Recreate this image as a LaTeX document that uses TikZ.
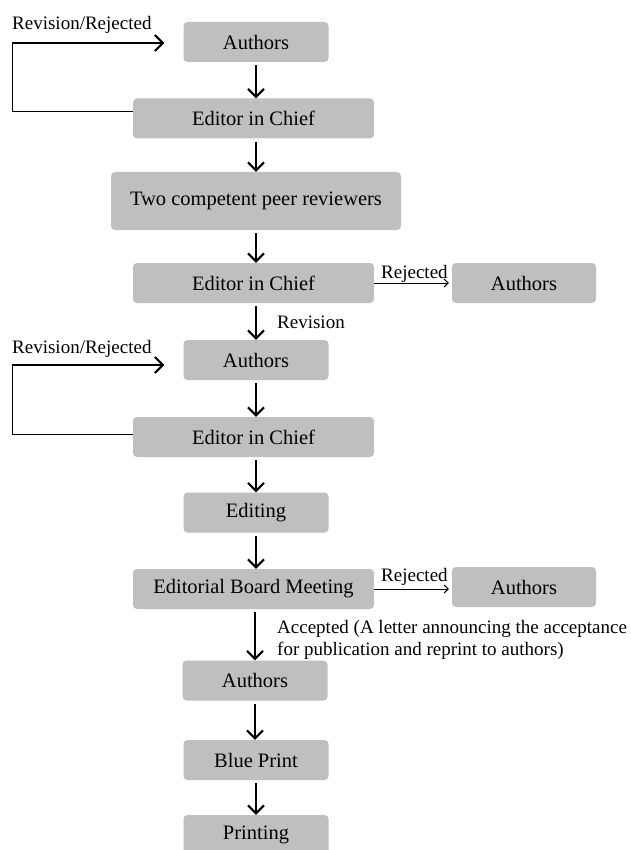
\documentclass[tikz,border=0pt]{standalone}
\usepackage{fontspec}
\setmainfont{Liberation Serif}
\usetikzlibrary{arrows.meta}
\definecolor{boxgray}{RGB}{191,191,191}
\begin{document}
\begin{tikzpicture}[x=1pt,y=-1pt,
  box/.style={fill=boxgray, rounded corners=4pt, inner sep=0pt, minimum height=40pt,
    font=\fontsize{20.5}{24}\selectfont},
  narrow/.style={box, minimum width=145pt},
  wide/.style={box, minimum width=241pt},
  lbl/.style={font=\fontsize{19}{22}\selectfont, inner sep=0pt},
  flow/.style={line width=2pt, -{Straight Barb[length=8pt,width=16pt]}, shorten <=3pt},
  reject/.style={line width=1pt, -{Straight Barb[length=4pt,width=8pt]}, shorten >=3pt},
  loopthin/.style={line width=1pt},
  loopthick/.style={line width=2pt, -{Straight Barb[length=8pt,width=16pt]}}
]
\useasboundingbox (0,0) rectangle (630,850);

% nodes
\node[narrow] (a1) at (256,42) {Authors};
\node[wide]   (e1) at (253.5,118.5) {Editor in Chief};
\node[box, minimum width=290pt, minimum height=58pt] (t) at (256,201) {Two competent peer reviewers};
\node[wide]   (e2) at (253.5,283) {Editor in Chief};
\node[narrow, minimum width=144pt] (r1) at (524,283) {Authors};
\node[narrow] (a2) at (256,360) {Authors};
\node[wide]   (e3) at (253.5,437) {Editor in Chief};
\node[narrow] (ed) at (256,512.5) {Editing};
\node[wide]   (eb) at (253.5,589) {Editorial Board Meeting};
\node[narrow, minimum width=144pt] (r2) at (524,587) {Authors};
\node[narrow] (a3) at (255,680.5) {Authors};
\node[narrow] (bp) at (256,760) {Blue Print};
\node[narrow] (pr) at (256,835) {Printing};

% loop coordinates
\coordinate (c1) at (12,112);
\coordinate (c2) at (12,43);
\coordinate (c3) at (12,434);
\coordinate (c4) at (12,365);

% labels
\node[lbl, anchor=base west] (l1) at (12,30) {Revision/Rejected};
\node[lbl, anchor=base west] (l2) at (12,353) {Revision/Rejected};
\node[lbl, anchor=base west] (l3) at (381,278) {Rejected};
\node[lbl, anchor=base west] (l4) at (277,328) {Revision};
\node[lbl, anchor=base west] (l5) at (381,581) {Rejected};
\node[lbl, anchor=base west, align=left] (l6) at (277,655) {Accepted (A letter announcing the acceptance\\for publication and reprint to authors)};

% vertical flow
\draw[flow] (a1.south) -- (a1.south |- e1.north);
\draw[flow] (t.north |- e1.south) -- (t.north);
\draw[flow] (t.south) -- (t.south |- e2.north);
\draw[flow] (a2.north |- e2.south) -- (a2.north);
\draw[flow] (a2.south) -- (a2.south |- e3.north);
\draw[flow] (ed.north |- e3.south) -- (ed.north);
\draw[flow] (ed.south) -- (ed.south |- eb.north);
\draw[flow] (a3.north |- eb.south) -- (a3.north);
\draw[flow] (a3.south) -- (a3.south |- bp.north);
\draw[flow] (bp.south) -- (pr.north);

% rejected arrows
\draw[reject] (e2.east) -- (r1.west |- e2.east);
\draw[reject] (eb.east) -- (r2.west |- eb.east);

% feedback loops
\draw[loopthin] ([yshift=6.5pt]e1.west) -- (c1) -- (c2);
\draw[loopthick] (c2) -- ([xshift=-19pt,yshift=-1pt]a1.west);
\draw[loopthin] ([yshift=3pt]e3.west) -- (c3) -- (c4);
\draw[loopthick] (c4) -- ([xshift=-19pt,yshift=-5pt]a2.west);
\end{tikzpicture}
\end{document}
